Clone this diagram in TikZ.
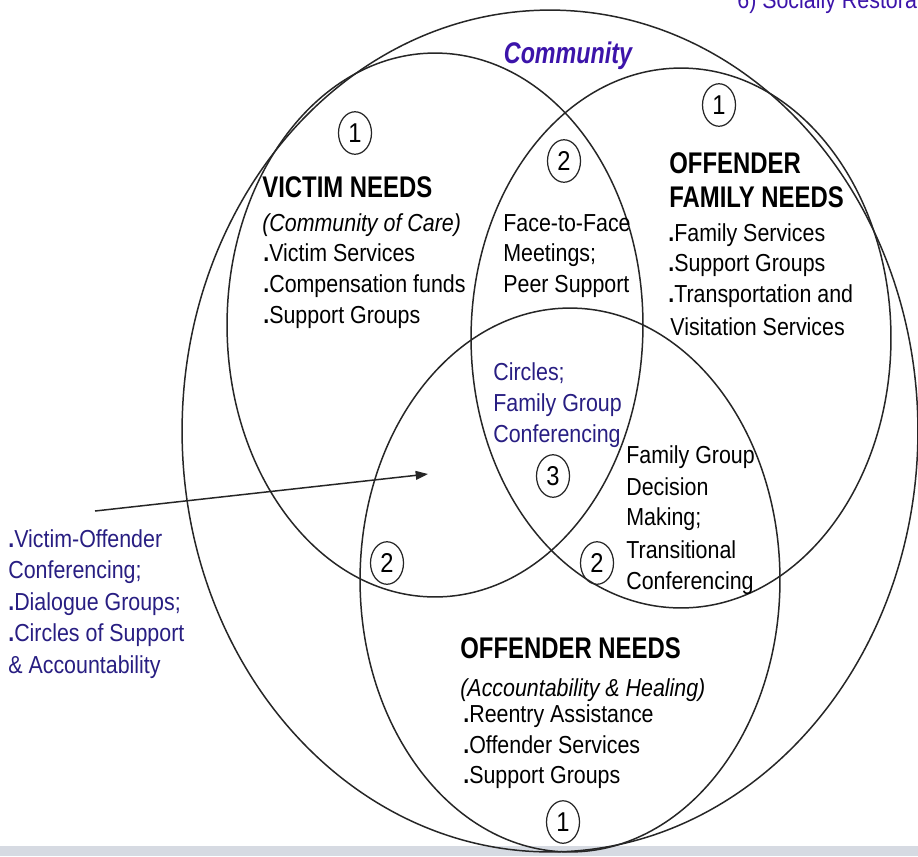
\documentclass[tikz,border=0pt]{standalone}
\usepackage{fontspec}
\setmainfont{Liberation Sans}[FakeStretch=0.87]
\newfontfamily\headfont{Liberation Sans}[FakeStretch=0.8]
\newfontfamily\commfont{Liberation Sans}[FakeStretch=0.78]
\usetikzlibrary{shapes.geometric,arrows.meta}
\definecolor{navy}{RGB}{40,30,130}
\definecolor{violetblue}{RGB}{60,20,170}
\definecolor{bandgray}{RGB}{214,218,226}
\newcommand{\bdot}{{\bfseries.}}
\begin{document}
\begin{tikzpicture}[x=0.02cm,y=-0.02cm,
  ring/.style={draw=black!85, line width=0.85pt, ellipse, inner sep=0pt, fill=none},
  txt/.style={anchor=base west, inner sep=0pt, font=\fontsize{14}{16}\selectfont},
  navytxt/.style={txt, text=navy},
  head/.style={anchor=base west, inner sep=0pt, font=\headfont\bfseries\fontsize{17}{20}\selectfont},
  num/.style={draw=black!85, line width=0.7pt, ellipse, minimum width=0.66cm, minimum height=0.85cm, inner sep=0pt, font=\fontsize{15.5}{17}\selectfont},
  arrowline/.style={draw=black!85, line width=0.85pt, -{Triangle[length=7pt,width=5pt]}}
]
\useasboundingbox (0,0) rectangle (918,856);
\fill[white] (0,0) rectangle (918,856);
\fill[bandgray] (0,846) rectangle (918,856);

% ellipses
\node[ring, minimum width=14.72cm, minimum height=16.84cm] (community) at (550,431) {};
\node[ring, minimum width=8.32cm, minimum height=10.88cm] (victim) at (435,325) {};
\node[ring, minimum width=8.4cm, minimum height=10.8cm] (family) at (681,338) {};
\node[ring, minimum width=8.4cm, minimum height=10.88cm] (offender) at (570,580) {};

% top right partial title
\node[anchor=base west, inner sep=0pt, text=violetblue, font=\fontsize{14}{16}\selectfont] (toptitle) at (737,8) {6) Socially Restorative};

% Community
\node[anchor=base, inner sep=0pt, text=violetblue, font=\commfont\bfseries\itshape\fontsize{17}{20}\selectfont] (comm) at (568,63) {Community};

% circled numbers
\node[num] (n1v) at (355,133) {1};
\node[num] (n1f) at (719,105) {1};
\node[num] (n2t) at (564,161) {2};
\node[num] (n3) at (553,476) {3};
\node[num] (n2l) at (387,563) {2};
\node[num] (n2r) at (597,563) {2};
\node[num] (n1o) at (563,822) {1};

% victim needs
\node[head] (vtitle) at (262,197) {VICTIM NEEDS};
\node[txt, font=\itshape\fontsize{14}{16}\selectfont] (vsub) at (262,231) {(Community of Care)};
\node[txt] (v1) at (263,261) {\bdot Victim Services};
\node[txt] (v2) at (263,292) {\bdot Compensation funds};
\node[txt] (v3) at (263,323) {\bdot Support Groups};

% face-to-face
\node[txt] (m1) at (503,231) {Face-to-Face};
\node[txt] (m2) at (503,261) {Meetings;};
\node[txt] (m3) at (503,292) {Peer Support};

% offender family needs
\node[head] (ft1) at (669,173) {OFFENDER};
\node[head] (ft2) at (669,207) {FAMILY NEEDS};
\node[txt] (f1) at (668,241) {\bdot Family Services};
\node[txt] (f2) at (668,271) {\bdot Support Groups};
\node[txt] (f3) at (668,302) {\bdot Transportation and};
\node[txt] (f4) at (670,335) {Visitation Services};

% center
\node[navytxt] (c1) at (493,380) {Circles;};
\node[navytxt] (c2) at (493,411) {Family Group};
\node[navytxt] (c3) at (493,442) {Conferencing};

% right center
\node[txt] (d1) at (626,463) {Family Group};
\node[txt] (d2) at (626,495) {Decision};
\node[txt] (d3) at (626,525) {Making;};
\node[txt] (d4) at (626,558) {Transitional};
\node[txt] (d5) at (626,589) {Conferencing};

% left block
\node[navytxt] (l1) at (8,547) {\bdot Victim-Offender};
\node[navytxt] (l2) at (8,578) {Conferencing;};
\node[navytxt] (l3) at (8,610) {\bdot Dialogue Groups;};
\node[navytxt] (l4) at (8,641) {\bdot Circles of Support};
\node[navytxt] (l5) at (8,673) {\& Accountability};

% offender needs
\node[head] (otitle) at (460,658) {OFFENDER NEEDS};
\node[txt, font=\itshape\fontsize{14}{16}\selectfont] (osub) at (460,696) {(Accountability \& Healing)};
\node[txt] (o1) at (463,722) {\bdot Reentry Assistance};
\node[txt] (o2) at (463,753) {\bdot Offender Services};
\node[txt] (o3) at (463,783) {\bdot Support Groups};

% arrow
\coordinate (arrS) at (95,511);
\coordinate (arrE) at (428,474);
\draw[arrowline] (arrS) -- (arrE);
\end{tikzpicture}
\end{document}
